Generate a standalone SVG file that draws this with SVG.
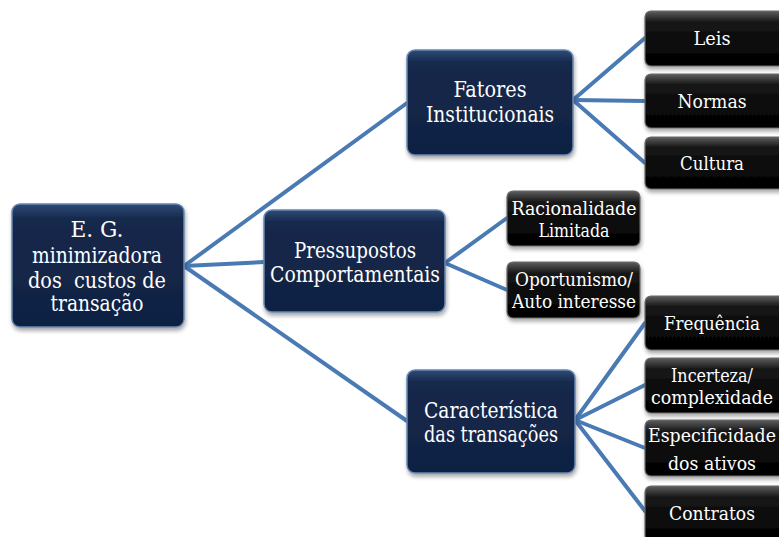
<svg xmlns="http://www.w3.org/2000/svg" width="779" height="537" viewBox="0 0 779 537">
  <defs>
    <linearGradient id="navyFill" x1="0" y1="0" x2="0" y2="1">
      <stop offset="0" stop-color="#2e4b76"/>
      <stop offset="0.12" stop-color="#16294c"/>
      <stop offset="1" stop-color="#0f2242"/>
    </linearGradient>
    <linearGradient id="blackFill" x1="0" y1="0" x2="0" y2="1">
      <stop offset="0" stop-color="#5e5e5e"/>
      <stop offset="0.2" stop-color="#161616"/>
      <stop offset="1" stop-color="#000000"/>
    </linearGradient>
    <filter id="shadow" x="-10%" y="-10%" width="125%" height="130%">
      <feGaussianBlur in="SourceAlpha" stdDeviation="2"/>
      <feOffset dx="1" dy="3"/>
      <feComponentTransfer><feFuncA type="linear" slope="0.35"/></feComponentTransfer>
      <feMerge><feMergeNode/><feMergeNode in="SourceGraphic"/></feMerge>
    </filter>
  </defs>
  <style>
    .navy { fill: url(#navyFill); stroke: #6a88b3; stroke-width: 1.5; filter: url(#shadow); }
    .black { fill: url(#blackFill); stroke: #6a6a6a; stroke-width: 1.2; filter: url(#shadow); }
    text { font-family: "DejaVu Serif", "Liberation Serif", serif; font-stretch: condensed; fill: #ffffff; text-anchor: middle; }
    .big { font-size: 22px; }
    .small { font-size: 18.5px; }
    .link { stroke: #4a7ab4; stroke-width: 4; fill: none; stroke-linecap: round; }
  </style>

  <rect width="779" height="537" fill="#ffffff"/>

  <g id="connectors">
    <path class="link" d="M184,266 L407,103"/>
    <path class="link" d="M184,266 L264,262"/>
    <path class="link" d="M184,266 L407,421"/>
    <path class="link" d="M573,100 L645,38"/>
    <path class="link" d="M573,100 L645,101"/>
    <path class="link" d="M573,100 L645,163"/>
    <path class="link" d="M445,263 L507,218"/>
    <path class="link" d="M445,263 L507,290"/>
    <path class="link" d="M575,420 L645,323"/>
    <path class="link" d="M575,420 L645,385"/>
    <path class="link" d="M575,420 L645,448"/>
    <path class="link" d="M575,420 L645,511"/>
  </g>

  <g id="root">
    <rect class="navy" x="12" y="204" width="172" height="123" rx="8"/>
    <text class="big" x="97" y="237" textLength="53" lengthAdjust="spacingAndGlyphs">E. G.</text>
    <text class="big" x="97" y="263" textLength="130" lengthAdjust="spacingAndGlyphs">minimizadora</text>
    <text class="big" x="97" y="288" textLength="138" lengthAdjust="spacingAndGlyphs" xml:space="preserve">dos  custos de</text>
    <text class="big" x="97" y="311" textLength="93" lengthAdjust="spacingAndGlyphs">transação</text>
  </g>

  <g id="fatores">
    <rect class="navy" x="407" y="50" width="166" height="105" rx="8"/>
    <text class="big" x="490" y="97" textLength="73" lengthAdjust="spacingAndGlyphs">Fatores</text>
    <text class="big" x="490" y="122" textLength="128" lengthAdjust="spacingAndGlyphs">Institucionais</text>
  </g>

  <g id="pressupostos">
    <rect class="navy" x="264" y="210" width="181" height="102" rx="8"/>
    <text class="big" x="355" y="258" textLength="122" lengthAdjust="spacingAndGlyphs">Pressupostos</text>
    <text class="big" x="355" y="282" textLength="170" lengthAdjust="spacingAndGlyphs">Comportamentais</text>
  </g>

  <g id="caracteristica">
    <rect class="navy" x="407" y="370" width="168" height="103" rx="8"/>
    <text class="big" x="491" y="418" textLength="134" lengthAdjust="spacingAndGlyphs">Característica</text>
    <text class="big" x="491" y="442" textLength="134" lengthAdjust="spacingAndGlyphs">das transações</text>
  </g>

  <g id="leis">
    <rect class="black" x="645" y="11" width="140" height="55" rx="6"/>
    <text class="small" x="712" y="45" textLength="37" lengthAdjust="spacingAndGlyphs">Leis</text>
  </g>
  <g id="normas">
    <rect class="black" x="645" y="74" width="140" height="54" rx="6"/>
    <text class="small" x="712" y="108" textLength="69" lengthAdjust="spacingAndGlyphs">Normas</text>
  </g>
  <g id="cultura">
    <rect class="black" x="645" y="137" width="140" height="52" rx="6"/>
    <text class="small" x="712" y="170" textLength="64" lengthAdjust="spacingAndGlyphs">Cultura</text>
  </g>

  <g id="racionalidade">
    <rect class="black" x="507" y="191" width="133" height="55" rx="6"/>
    <text class="small" x="574" y="215" textLength="125" lengthAdjust="spacingAndGlyphs">Racionalidade</text>
    <text class="small" x="574" y="237" textLength="71" lengthAdjust="spacingAndGlyphs">Limitada</text>
  </g>
  <g id="oportunismo">
    <rect class="black" x="507" y="262" width="133" height="56" rx="6"/>
    <text class="small" x="574" y="286" textLength="118" lengthAdjust="spacingAndGlyphs">Oportunismo/</text>
    <text class="small" x="574" y="308" textLength="124" lengthAdjust="spacingAndGlyphs">Auto interesse</text>
  </g>

  <g id="frequencia">
    <rect class="black" x="645" y="296" width="140" height="54" rx="6"/>
    <text class="small" x="712" y="330" textLength="96" lengthAdjust="spacingAndGlyphs">Frequência</text>
  </g>
  <g id="incerteza">
    <rect class="black" x="645" y="358" width="140" height="55" rx="6"/>
    <text class="small" x="712" y="382" textLength="82" lengthAdjust="spacingAndGlyphs">Incerteza/</text>
    <text class="small" x="712" y="404" textLength="122" lengthAdjust="spacingAndGlyphs">complexidade</text>
  </g>
  <g id="especificidade">
    <rect class="black" x="645" y="420" width="140" height="56" rx="6"/>
    <text class="small" x="712" y="442" textLength="128" lengthAdjust="spacingAndGlyphs">Especificidade</text>
    <text class="small" x="712" y="470" textLength="88" lengthAdjust="spacingAndGlyphs">dos ativos</text>
  </g>
  <g id="contratos">
    <rect class="black" x="645" y="486" width="140" height="56" rx="6"/>
    <text class="small" x="712" y="520" textLength="86" lengthAdjust="spacingAndGlyphs">Contratos</text>
  </g>
</svg>
